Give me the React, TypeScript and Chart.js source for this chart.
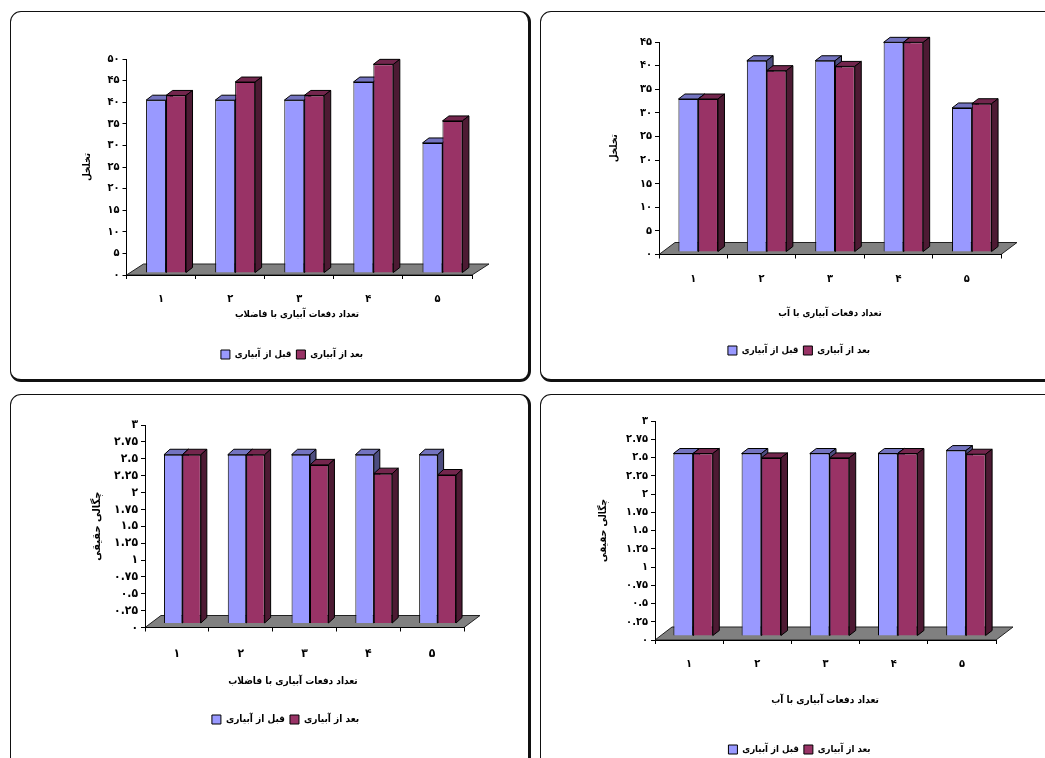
import React, { useEffect, useRef } from "react";
import { Chart, registerables } from "chart.js";

Chart.register(...registerables);

const categories = ["۱", "۲", "۳", "۴", "۵"];
const labelBefore = "قبل از آبیاری";
const labelAfter = "بعد از آبیاری";

const porosityTicks = ["۰", "۵", "۱۰", "۱۵", "۲۰", "۲۵", "۳۰", "۳۵", "۴۰", "۴۵", "۵۰"];
const densityTicks = ["۰", "۰.۲۵", "۰.۵", "۰.۷۵", "۱", "۱.۲۵", "۱.۵", "۱.۷۵", "۲", "۲.۲۵", "۲.۵", "۲.۷۵", "۳"];

const porosityWasteBefore = [40, 40, 40, 44.2, 30.1];
const porosityWasteAfter = [41.1, 44.2, 41.1, 48.3, 35.2];
const porosityWaterBefore = [32.4, 40.5, 40.5, 44.4, 30.5];
const porosityWaterAfter = [32.4, 38.4, 39.3, 44.4, 31.4];
const densityWasteBefore = [2.5, 2.5, 2.5, 2.5, 2.5];
const densityWasteAfter = [2.5, 2.5, 2.35, 2.22, 2.2];
const densityWaterBefore = [2.5, 2.5, 2.5, 2.5, 2.54];
const densityWaterAfter = [2.5, 2.44, 2.44, 2.5, 2.49];

const porosityTitle = "تخلخل";
const densityTitle = "چگالی حقیقی";
const wasteTitle = "تعداد دفعات آبیاری با فاضلاب";
const waterTitle = "تعداد دفعات آبیاری با آب";

const W = 1045;
const H = 758;
const FONT = "'DejaVu Sans Condensed', 'DejaVu Sans', sans-serif";
const BLUE = "#9999FF";
const RED = "#993366";

const panels = [
  {
    before: porosityWasteBefore, after: porosityWasteAfter, yLabels: porosityTicks, max: 50, step: 5,
    yTitle: porosityTitle, xTitle: wasteTitle,
    axisX: 126.5, plotRight: 472, top: 59, axisY: 275,
    yTitleX: 87, xTitleX: 297, xTitleY: 314, legendX: 292, legendY: 357,
    shiftX: 5, shiftY: -2, dx: 6.5, dy: 5, floorX: 17, floorY: 11,
    tickPad: 14, yFont: 11, xFont: 11, titleFont: 9.6, legendFont: 9.6, yTitleFont: 10,
  },
  {
    before: porosityWaterBefore, after: porosityWaterAfter, yLabels: porosityTicks.slice(0, 10), max: 45, step: 5,
    yTitle: porosityTitle, xTitle: waterTitle,
    axisX: 659, plotRight: 1001, top: 42, axisY: 254.5,
    yTitleX: 614, xTitleX: 830, xTitleY: 313, legendX: 799, legendY: 353,
    shiftX: 5, shiftY: -2.5, dx: 6.5, dy: 5, floorX: 16, floorY: 12,
    tickPad: 14, yFont: 11, xFont: 11, titleFont: 9.6, legendFont: 9.6, yTitleFont: 10,
  },
  {
    before: densityWasteBefore, after: densityWasteAfter, yLabels: densityTicks, max: 3, step: 0.25,
    yTitle: densityTitle, xTitle: wasteTitle,
    axisX: 145, plotRight: 464, top: 425, axisY: 627.5,
    yTitleX: 97, xTitleX: 293, xTitleY: 681, legendX: 285.5, legendY: 722,
    shiftX: 5.5, shiftY: -4, dx: 6, dy: 5.5, floorX: 16, floorY: 12,
    tickPad: 15, yFont: 12, xFont: 12, titleFont: 10, legendFont: 10, yTitleFont: 11,
  },
  {
    before: densityWaterBefore, after: densityWaterAfter, yLabels: densityTicks, max: 3, step: 0.25,
    yTitle: densityTitle, xTitle: waterTitle,
    axisX: 655, plotRight: 996, top: 421, axisY: 640,
    yTitleX: 603, xTitleX: 825, xTitleY: 700, legendX: 799.5, legendY: 752,
    shiftX: 4, shiftY: -4, dx: 6.5, dy: 5, floorX: 17, floorY: 13,
    tickPad: 14, yFont: 11, xFont: 11, titleFont: 10, legendFont: 9.6, yTitleFont: 10,
  },
];

const frames = [
  { left: 10, top: 11, width: 521, height: 371 },
  { left: 540, top: 11, width: 540, height: 371 },
  { left: 10, top: 394, width: 521, height: 400 },
  { left: 540, top: 394, width: 540, height: 400 },
];

function depthPlugin(p: any) {
  return {
    id: "depth3d",
    afterLayout(chart: any) {
      const lg = chart.legend;
      if (!lg) return;
      const sx = p.legendX - (lg.left + lg.right) / 2;
      const h = lg.height;
      lg.left += sx;
      lg.right += sx;
      lg.top = p.legendY - h / 2;
      lg.bottom = p.legendY + h / 2;
    },
    beforeDraw(chart: any) {
      const { ctx, scales } = chart;
      const y0 = scales.y.getPixelForValue(0);
      const l = scales.x.left;
      const r = scales.x.right;
      ctx.save();
      ctx.beginPath();
      ctx.moveTo(l, y0);
      ctx.lineTo(l + p.floorX, y0 - p.floorY);
      ctx.lineTo(r + p.floorX, y0 - p.floorY);
      ctx.lineTo(r, y0);
      ctx.closePath();
      ctx.fillStyle = "#808080";
      ctx.fill();
      ctx.strokeStyle = "#222";
      ctx.lineWidth = 1;
      ctx.stroke();
      ctx.restore();
    },
    // Painter's order: the left series goes first, so its side stays behind the right series.
    beforeDatasetsDraw(chart: any) {
      const { ctx } = chart;
      [0, 1].forEach((index) => {
        const meta = chart.getDatasetMeta(index);
        const topFill = index === 0 ? "#7373BF" : "#73264D";
        const sideFill = index === 0 ? "#4D4D80" : "#4D1A33";
        ctx.save();
        ctx.translate(p.shiftX, p.shiftY);
        ctx.lineWidth = 1;
        ctx.strokeStyle = "#000";
        meta.data.forEach((el: any) => {
          const { x, y, base, width } = el.getProps(["x", "y", "base", "width"], true);
          const a = x - width / 2;
          const b = x + width / 2;
          ctx.beginPath();
          ctx.moveTo(a, y);
          ctx.lineTo(a + p.dx, y - p.dy);
          ctx.lineTo(b + p.dx, y - p.dy);
          ctx.lineTo(b, y);
          ctx.closePath();
          ctx.fillStyle = topFill;
          ctx.fill();
          ctx.stroke();
          ctx.beginPath();
          ctx.moveTo(b, y);
          ctx.lineTo(b + p.dx, y - p.dy);
          ctx.lineTo(b + p.dx, base - p.dy);
          ctx.lineTo(b, base);
          ctx.closePath();
          ctx.fillStyle = sideFill;
          ctx.fill();
          ctx.stroke();
        });
        meta.controller.draw();
        ctx.restore();
      });
      return false;
    },
  };
}

function Panel({ p }: { p: any }) {
  const ref = useRef<HTMLCanvasElement | null>(null);
  useEffect(() => {
    const yLh = p.yTitleFont * 1.2;
    const xLh = p.titleFont * 1.2;
    const chart = new Chart(ref.current as HTMLCanvasElement, {
      type: "bar",
      data: {
        labels: categories,
        datasets: [
          { label: labelBefore, data: p.before, backgroundColor: BLUE, borderColor: "#000", borderWidth: 1 },
          { label: labelAfter, data: p.after, backgroundColor: RED, borderColor: "#000", borderWidth: 1 },
        ],
      },
      plugins: [depthPlugin(p)],
      options: {
        responsive: false,
        animation: false,
        events: [],
        devicePixelRatio: 1,
        layout: {
          autoPadding: false,
          padding: { left: p.yTitleX - yLh / 2, right: W - p.plotRight, top: p.top, bottom: 0 },
        },
        datasets: { bar: { categoryPercentage: 0.578, barPercentage: 1 } },
        plugins: {
          title: { display: false },
          tooltip: { enabled: false },
          legend: {
            display: true,
            position: "bottom",
            labels: {
              boxWidth: 9,
              boxHeight: 9,
              padding: 5,
              color: "#000",
              font: { family: FONT, size: p.legendFont, weight: "bold" },
            },
          },
        },
        scales: {
          x: {
            type: "category",
            offset: true,
            grid: { display: true, drawOnChartArea: false, drawTicks: true, tickLength: 4, color: "#000", offset: true },
            border: { display: true, color: "#000", width: 1 },
            ticks: {
              color: "#000",
              padding: p.tickPad,
              maxRotation: 0,
              font: { family: FONT, size: p.xFont, weight: "bold" },
            },
            title: {
              display: true,
              text: p.xTitle,
              color: "#000",
              padding: 0,
              font: { family: FONT, size: p.titleFont, weight: "bold" },
            },
            afterFit(s: any) {
              s.height = H - p.axisY - (s.chart.legend ? s.chart.legend.height : 0);
              if (!s.__wrapped) {
                s.__wrapped = true;
                const orig = s.drawTitle;
                s.drawTitle = function () {
                  const c = s.ctx;
                  c.save();
                  c.translate(p.xTitleX - (s.left + s.right) / 2, p.xTitleY - (s.bottom - xLh / 2));
                  orig.call(s);
                  c.restore();
                };
              }
            },
          },
          y: {
            min: 0,
            max: p.max,
            grid: { display: true, drawOnChartArea: false, drawTicks: true, tickLength: 4, color: "#000" },
            border: { display: true, color: "#000", width: 1 },
            ticks: {
              stepSize: p.step,
              autoSkip: false,
              color: "#000",
              padding: 3,
              font: { family: FONT, size: p.yFont, weight: "bold" },
              callback: (_v: any, i: number) => p.yLabels[i],
            },
            title: {
              display: true,
              text: p.yTitle,
              color: "#000",
              padding: 0,
              font: { family: FONT, size: p.yTitleFont, weight: "bold" },
            },
            afterFit(s: any) {
              s.width = p.axisX - (p.yTitleX - yLh / 2);
            },
          },
        },
      } as any,
    } as any);
    return () => chart.destroy();
  }, [p]);
  return (
    <canvas
      ref={ref}
      width={W}
      height={H}
      style={{ position: "absolute", left: 0, top: 0, width: W, height: H }}
    />
  );
}

export default function App() {
  return (
    <div
      style={{
        position: "absolute",
        left: 0,
        top: 0,
        width: W,
        height: H,
        overflow: "hidden",
        background: "#fff",
      }}
    >
      {frames.map((f, i) => (
        <div
          key={i}
          style={{
            position: "absolute",
            boxSizing: "border-box",
            left: f.left,
            top: f.top,
            width: f.width,
            height: f.height,
            borderStyle: "solid",
            borderColor: "#111",
            borderWidth: "1.5px 3px 3px 1.5px",
            borderRadius: 11,
          }}
        />
      ))}
      {panels.map((p, i) => (
        <Panel key={i} p={p} />
      ))}
    </div>
  );
}
